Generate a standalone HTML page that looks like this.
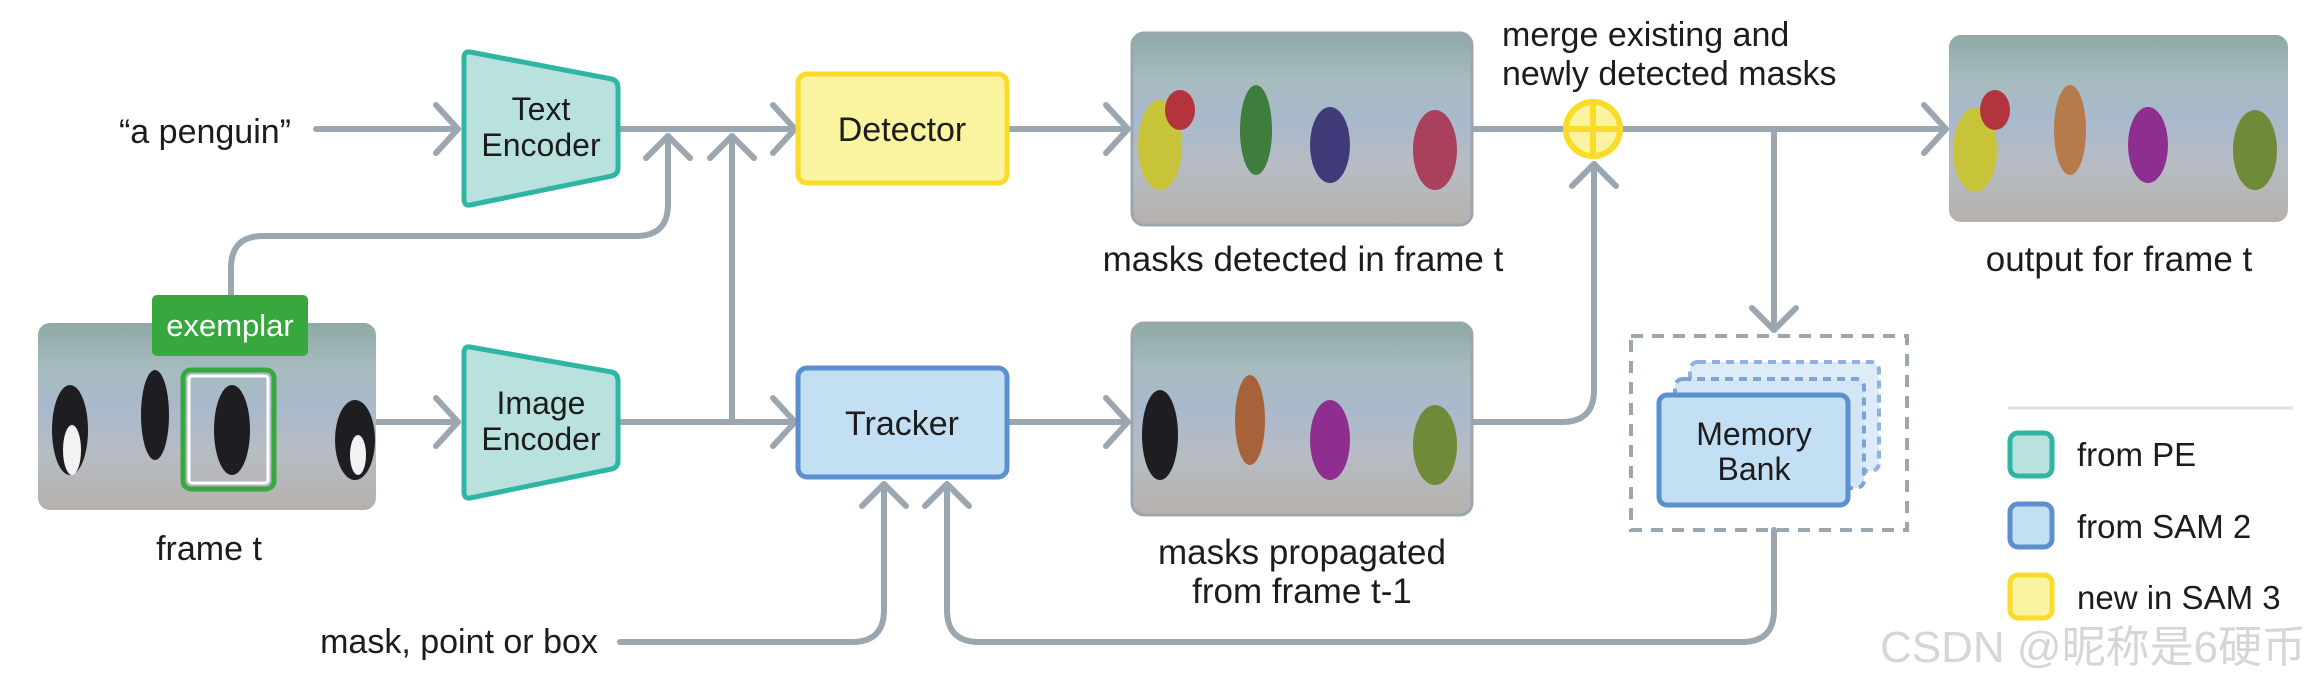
<!DOCTYPE html>
<html><head><meta charset="utf-8"><style>
html,body{margin:0;padding:0;background:#fff;}
svg{display:block;}
text{font-family:"Liberation Sans","Noto Sans CJK SC",sans-serif;fill:#1c1c1c;}
</style></head><body>
<svg width="2314" height="684" viewBox="0 0 2314 684" xmlns="http://www.w3.org/2000/svg">
<defs>
<linearGradient id="ph" x1="0" y1="0" x2="0" y2="1">
<stop offset="0" stop-color="#8ea9a6"/><stop offset="0.25" stop-color="#a7bcbf"/>
<stop offset="0.45" stop-color="#a9b9cc"/><stop offset="0.7" stop-color="#b7bcc3"/>
<stop offset="1" stop-color="#b5b1ad"/></linearGradient>
</defs>
<g fill="none" stroke="#9aa6b0" stroke-width="6" stroke-linecap="round" stroke-linejoin="round">
<line x1="316" y1="129" x2="458" y2="129"/>
<polyline points="436,105 458,129 436,153"/>
<line x1="618" y1="129" x2="795" y2="129"/>
<polyline points="773,105 795,129 773,153"/>
<path d="M231 295 V268 Q231 236 263 236 H636 Q668 236 668 204 V136"/>
<polyline points="646,158 668,136 690,158"/>
<line x1="732" y1="422" x2="732" y2="136"/>
<polyline points="710,158 732,136 754,158"/>
<line x1="376" y1="422" x2="458" y2="422"/>
<polyline points="436,398 458,422 436,446"/>
<line x1="618" y1="422" x2="795" y2="422"/>
<polyline points="773,398 795,422 773,446"/>
<line x1="1007" y1="129" x2="1128" y2="129"/>
<polyline points="1106,105 1128,129 1106,153"/>
<line x1="1007" y1="422" x2="1128" y2="422"/>
<polyline points="1106,398 1128,422 1106,446"/>
<path d="M620 642 H852 Q884 642 884 610 V484"/>
<polyline points="862,506 884,484 906,506"/>
<path d="M1774 530 V610 Q1774 642 1742 642 H979 Q947 642 947 610 V484"/>
<polyline points="925,506 947,484 969,506"/>
<line x1="1472" y1="129" x2="1565" y2="129"/>
<path d="M1472 422 H1562 Q1594 422 1594 390 V164"/>
<polyline points="1572,186 1594,164 1616,186"/>
<line x1="1621" y1="129" x2="1946" y2="129"/>
<polyline points="1924,105 1946,129 1924,153"/>
<line x1="1774" y1="129" x2="1774" y2="330"/>
<polyline points="1752,308 1774,330 1796,308"/>
</g>
<path d="M470 52 L612 79 Q618 81 618 88 V168 Q618 174 612 176 L470 205 Q464 206 464 199 V58 Q464 51 470 52 Z" fill="#b9e2df" stroke="#2fb5a3" stroke-width="5"/>
<text x="541" y="120" font-size="32" text-anchor="middle">Text</text>
<text x="541" y="156" font-size="32" text-anchor="middle">Encoder</text>
<path d="M470 347 L612 372 Q618 374 618 381 V461 Q618 467 612 469 L470 498 Q464 499 464 492 V353 Q464 346 470 347 Z" fill="#b9e2df" stroke="#2fb5a3" stroke-width="5"/>
<text x="541" y="414" font-size="32" text-anchor="middle">Image</text>
<text x="541" y="450" font-size="32" text-anchor="middle">Encoder</text>
<rect x="798" y="74" width="209" height="109" rx="9" fill="#faf3a0" stroke="#f9dc2a" stroke-width="5"/>
<text x="902" y="141" font-size="34" text-anchor="middle">Detector</text>
<rect x="798" y="368" width="209" height="109" rx="9" fill="#c2dff4" stroke="#5b8fcf" stroke-width="5"/>
<text x="902" y="435" font-size="34" text-anchor="middle">Tracker</text>
<text x="205" y="143" font-size="34" text-anchor="middle">“a penguin”</text>
<text x="459" y="653" font-size="34" text-anchor="middle">mask, point or box</text>
<rect x="38" y="323" width="338" height="187" rx="12" fill="url(#ph)"/>
<g fill="#1d1d22"><ellipse cx="70" cy="430" rx="18" ry="45"/><ellipse cx="155" cy="415" rx="14" ry="45"/><ellipse cx="232" cy="430" rx="18" ry="45"/><ellipse cx="355" cy="440" rx="20" ry="40"/></g>
<g fill="#f2f2f2"><ellipse cx="72" cy="450" rx="9" ry="25"/><ellipse cx="358" cy="455" rx="8" ry="20"/></g>
<rect x="183" y="370" width="91" height="119" rx="8" fill="none" stroke="#37a83d" stroke-width="5"/>
<rect x="189" y="376" width="79" height="107" rx="3" fill="none" stroke="#fff" stroke-width="3"/>
<rect x="152" y="295" width="156" height="61" rx="5" fill="#37a83d"/>
<text x="230" y="336" font-size="31" text-anchor="middle" style="fill:#fff">exemplar</text>
<text x="209" y="560" font-size="34" text-anchor="middle">frame t</text>
<rect x="1132" y="33" width="340" height="192" rx="12" fill="url(#ph)" stroke="#9aa6b0" stroke-width="3"/>
<g><ellipse cx="1160" cy="145" rx="22" ry="45" fill="#c8c43a"/><ellipse cx="1180" cy="110" rx="15" ry="20" fill="#b3343d"/><ellipse cx="1256" cy="130" rx="16" ry="45" fill="#3f7d3f"/><ellipse cx="1330" cy="145" rx="20" ry="38" fill="#403a78"/><ellipse cx="1435" cy="150" rx="22" ry="40" fill="#a9415d"/></g>
<rect x="1132" y="323" width="340" height="192" rx="12" fill="url(#ph)" stroke="#9aa6b0" stroke-width="3"/>
<g><ellipse cx="1160" cy="435" rx="18" ry="45" fill="#1d1d22"/><ellipse cx="1250" cy="420" rx="15" ry="45" fill="#a8623a"/><ellipse cx="1330" cy="440" rx="20" ry="40" fill="#8e2e8e"/><ellipse cx="1435" cy="445" rx="22" ry="40" fill="#6f8a38"/></g>
<rect x="1949" y="35" width="339" height="187" rx="12" fill="url(#ph)"/>
<g><ellipse cx="1975" cy="150" rx="22" ry="42" fill="#c8c43a"/><ellipse cx="1995" cy="110" rx="15" ry="20" fill="#b3343d"/><ellipse cx="2070" cy="130" rx="16" ry="45" fill="#b77a4a"/><ellipse cx="2148" cy="145" rx="20" ry="38" fill="#8e2e8e"/><ellipse cx="2255" cy="150" rx="22" ry="40" fill="#6f8a38"/></g>
<text x="1303" y="271" font-size="35" text-anchor="middle">masks detected in frame t</text>
<text x="1302" y="564" font-size="35" text-anchor="middle">masks propagated</text>
<text x="1302" y="603" font-size="35" text-anchor="middle">from frame t-1</text>
<text x="2119" y="271" font-size="35" text-anchor="middle">output for frame t</text>
<text x="1502" y="46" font-size="34">merge existing and</text>
<text x="1502" y="85" font-size="34">newly detected masks</text>
<circle cx="1593" cy="129" r="27" fill="#faf3a0" stroke="#f9dc2a" stroke-width="6"/>
<line x1="1566" y1="129" x2="1620" y2="129" stroke="#f9dc2a" stroke-width="6"/>
<line x1="1593" y1="102" x2="1593" y2="156" stroke="#f9dc2a" stroke-width="6"/>
<rect x="1631" y="336" width="276" height="194" fill="none" stroke="#9aa6b0" stroke-width="4" stroke-dasharray="12 9"/>
<rect x="1690" y="362" width="189" height="109" rx="8" fill="#ddecf8" stroke="#8fb2e0" stroke-width="4" stroke-dasharray="8 6"/>
<rect x="1675" y="379" width="189" height="109" rx="8" fill="#d2e6f7" stroke="#7aa3da" stroke-width="4" stroke-dasharray="8 6"/>
<rect x="1659" y="395" width="189" height="110" rx="8" fill="#c2dff4" stroke="#5b8fcf" stroke-width="5"/>
<text x="1754" y="445" font-size="32" text-anchor="middle">Memory</text>
<text x="1754" y="480" font-size="32" text-anchor="middle">Bank</text>
<line x1="2008" y1="408" x2="2293" y2="408" stroke="#dde1e4" stroke-width="3"/>
<rect x="2010" y="433" width="42" height="43" rx="8" fill="#b9e2df" stroke="#2fb5a3" stroke-width="5"/>
<rect x="2010" y="504" width="42" height="43" rx="8" fill="#c2dff4" stroke="#5b8fcf" stroke-width="5"/>
<rect x="2010" y="575" width="42" height="43" rx="8" fill="#faf3a0" stroke="#f9dc2a" stroke-width="5"/>
<text x="2077" y="466" font-size="33">from PE</text>
<text x="2077" y="538" font-size="33">from SAM 2</text>
<text x="2077" y="609" font-size="33">new in SAM 3</text>
<text x="1880" y="662" font-size="44" style="fill:#d6d6d6">CSDN @昵称是6硬币</text>
</svg>
</body></html>
